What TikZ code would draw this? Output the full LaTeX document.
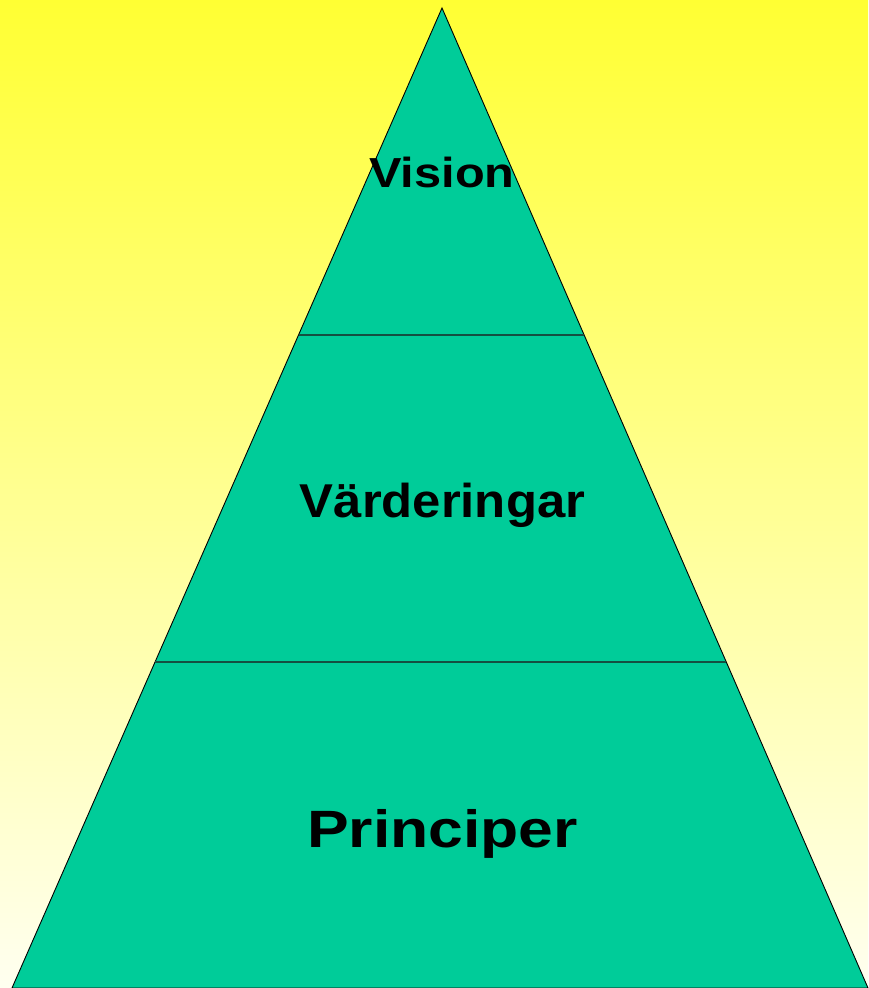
\documentclass[tikz,border=0pt]{standalone}
\usepackage{fontspec}
\setmainfont{Liberation Sans}
\usetikzlibrary{calc}
\definecolor{bgtop}{RGB}{255,255,51}
\definecolor{bgbot}{RGB}{255,255,240}
\definecolor{pyrfill}{RGB}{0,204,153}
\definecolor{divline}{RGB}{20,80,65}
\tikzset{
  lbl/.style={anchor=base, inner sep=0pt, font=\bfseries, text=black},
  divider/.style={draw=divline, line width=2.3pt},
}
\begin{document}
\begin{tikzpicture}[x=1pt,y=-1pt]
\useasboundingbox (0,0) rectangle (868,988);
\shade[top color=bgtop, bottom color=bgbot] (0,0) rectangle (868,988);
\coordinate (apex) at (442,8);
\coordinate (bl) at (12,988);
\coordinate (br) at (868,988);
\filldraw[fill=pyrfill, draw=black, line width=0.9pt, line join=miter] (apex) -- (bl) -- (br) -- cycle;
\coordinate (l1) at ($(apex)!0.3337!(bl)$);
\coordinate (r1) at ($(apex)!0.3337!(br)$);
\coordinate (l2) at ($(apex)!0.6673!(bl)$);
\coordinate (r2) at ($(apex)!0.6673!(br)$);
\draw[divider] (l1) -- (r1);
\draw[divider] (l2) -- (r2);
\node[lbl, xscale=1.16, font=\fontsize{42}{42}\selectfont\bfseries] (vision) at (442,187) {Vision};
\node[lbl, xscale=1.07, font=\fontsize{47.5}{47.5}\selectfont\bfseries] (varderingar) at (442.5,517) {Värderingar};
\node[lbl, xscale=1.19, font=\fontsize{52.5}{52.5}\selectfont\bfseries] (principer) at (442.5,847) {Principer};
\end{tikzpicture}
\end{document}
